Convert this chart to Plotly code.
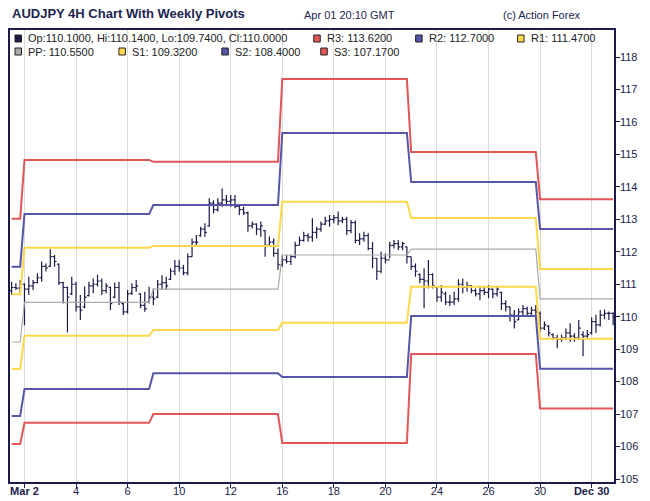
import plotly.graph_objects as go

# ---------------- data ----------------
highs = [111.08,111.03,111.13,111.03,111.23,111.13,111.34,111.70,111.64,112.08,
         111.90,111.64,111.08,110.93,111.23,111.08,110.67,110.93,111.08,111.18,
         111.29,111.18,111.03,110.93,111.05,111.08,110.46,110.82,111.03,111.13,
         110.72,110.77,110.92,110.87,111.13,111.28,111.23,111.49,111.75,111.75,
         111.59,111.95,112.41,112.52,112.77,112.88,113.65,113.59,113.65,113.95,
         113.75,113.75,113.75,113.44,113.39,113.24,112.93,112.88,112.93,112.67,
         112.47,112.41,112.10,111.90,111.90,111.90,112.31,112.47,112.62,112.57,
         113.03,112.77,112.93,113.08,113.13,113.13,113.24,113.08,113.08,112.98,
         112.96,112.57,112.62,112.57,112.30,111.80,112.00,111.95,112.31,112.36,
         112.36,112.31,112.16,111.85,111.64,111.34,111.49,111.75,111.34,110.93,
         110.98,110.77,110.67,110.77,111.15,111.18,111.08,110.98,110.87,110.93,
         110.93,110.98,110.87,110.93,110.77,110.51,110.31,110.21,110.26,110.36,
         110.31,110.31,110.36,110.16,109.85,109.74,109.49,109.44,109.44,109.64,
         109.80,109.49,109.90,109.55,109.59,109.98,110.06,110.21,110.22,110.16,
         110.14]
lows = [110.67,110.82,110.72,109.74,110.67,110.82,111.03,111.08,111.39,111.54,
        111.54,110.98,110.41,109.51,110.67,110.16,109.90,110.26,110.62,110.72,
        110.93,110.67,110.72,110.21,110.57,110.36,110.05,110.10,110.67,110.77,
        110.26,110.15,110.41,110.36,110.57,110.82,110.82,111.13,111.28,111.39,
        111.28,111.28,111.85,112.21,112.46,112.46,112.77,113.18,113.24,113.39,
        113.44,113.39,113.34,113.13,113.13,112.62,112.72,112.52,112.46,111.85,
        112.16,111.85,111.44,111.54,111.64,111.59,111.80,112.21,112.31,112.31,
        112.31,112.41,112.62,112.82,112.77,112.88,112.82,112.88,112.52,112.57,
        112.26,112.21,112.31,112.05,111.49,111.13,111.34,111.64,111.80,112.10,
        112.05,112.05,111.64,111.44,111.23,111.03,110.26,110.87,110.87,110.46,
        110.46,110.36,110.33,110.36,110.46,110.72,110.77,110.72,110.62,110.51,
        110.67,110.57,110.57,110.62,110.21,110.16,109.85,109.64,109.90,110.00,
        110.05,110.00,110.00,109.54,109.59,109.39,109.28,109.03,109.23,109.28,
        109.23,109.23,109.28,108.78,109.33,109.45,109.50,109.70,109.92,109.90,
        109.74]
opens = [110.80,110.90,110.88,111.00,110.85,110.95,111.05,111.20,111.55,111.55,
         111.85,111.62,111.05,110.90,110.70,111.00,110.30,110.30,110.65,110.95,
         111.00,111.10,110.80,110.90,110.60,110.90,110.40,110.15,110.72,110.90,
         110.70,110.35,110.45,110.60,110.60,111.00,111.05,111.15,111.40,111.55,
         111.50,111.35,111.85,112.30,112.50,112.70,112.80,113.50,113.30,113.50,
         113.60,113.55,113.60,113.40,113.30,113.20,112.80,112.85,112.70,112.65,
         112.20,112.30,111.95,111.60,111.75,111.70,111.85,112.20,112.35,112.50,
         112.45,112.60,112.70,112.85,112.95,113.00,113.05,112.95,113.00,112.65,
         112.90,112.35,112.40,112.50,112.10,111.80,111.40,111.80,111.75,112.20,
         112.25,112.15,112.15,111.85,111.55,111.30,111.15,111.10,111.30,110.90,
         110.60,110.70,110.45,110.45,110.55,111.00,110.90,110.95,110.80,110.70,
         110.80,110.75,110.85,110.70,110.75,110.40,110.30,110.05,109.90,110.15,
         110.25,110.10,110.20,110.10,109.65,109.70,109.45,109.35,109.30,109.35,
         109.50,109.40,109.35,109.45,109.40,109.50,109.85,109.75,110.05,110.10,
         110.10]
closes = [110.90,110.88,111.00,110.85,110.95,111.05,111.20,111.55,111.50,111.85,
          111.70,111.05,110.90,110.60,111.00,110.30,110.20,110.60,110.95,111.00,
          111.10,110.80,110.95,110.40,110.90,110.45,110.15,110.70,110.90,110.95,
          110.35,110.25,110.60,110.55,111.00,111.05,110.95,111.40,111.55,111.50,
          111.35,111.85,112.30,112.30,112.70,112.60,113.50,113.30,113.50,113.60,
          113.55,113.60,113.40,113.30,113.20,112.80,112.85,112.70,112.80,112.20,
          112.30,111.95,111.60,111.75,111.70,111.85,112.20,112.35,112.50,112.45,
          112.60,112.70,112.85,112.95,113.00,113.05,112.95,113.00,112.65,112.90,
          112.35,112.40,112.50,112.10,111.80,111.40,111.80,111.75,112.20,112.25,
          112.15,112.25,111.85,111.55,111.40,111.15,111.10,111.30,110.95,110.60,
          110.75,110.45,110.45,110.55,111.00,110.90,110.95,110.80,110.70,110.80,
          110.75,110.85,110.70,110.85,110.40,110.30,110.05,109.85,110.15,110.25,
          110.10,110.20,110.15,109.65,109.75,109.50,109.35,109.30,109.35,109.50,
          109.40,109.35,109.65,109.40,109.45,109.85,109.75,110.05,110.10,110.10,
          110.00]

# weekly pivots (previous week, Mar 2, Mar 9, Mar 16, Mar 23, Mar 30)
week_start = [0, 3, 33, 63, 93, 123]
week_end = [2, 32, 62, 92, 122, 140]
r3 = [113.02, 114.83, 114.77, 117.32, 115.07, 113.62]
r2 = [111.54, 113.16, 113.44, 115.66, 114.15, 112.70]
r1 = [110.69, 112.12, 112.18, 113.54, 113.04, 111.47]
pp = [109.22, 110.44, 110.85, 111.90, 112.08, 110.55]
s1 = [108.39, 109.41, 109.59, 109.81, 110.92, 109.32]
s2 = [106.94, 107.77, 108.26, 108.14, 110.02, 108.40]
s3 = [106.08, 106.73, 107.00, 106.11, 108.85, 107.17]

tick_vals = [3, 15, 27, 39, 51, 63, 75, 87, 99, 111, 123, 135]
tick_text = ["<b>Mar 2</b>", "4", "6", "10", "12", "16", "18", "20", "24", "26", "30", "<b>Dec 30</b>"]

# ---------------- styling ----------------
NAVY = "#1b1b4b"
RED = "#e25656"
BLUE = "#5656a8"
YELLOW = "#fcd84a"
GRAY = "#aaaaaa"
FONT = "Liberation Sans, Arial, sans-serif"

OFF = 8                      # page body margin of the html page
PAGE_W, PAGE_H = 650, 501
W, H = PAGE_W - OFF, PAGE_H - OFF
L, R, T, B = 10, 614.5, 30, 482  # plot area in page pixels


def px(x):
    return (x - L) / (R - L)


def py(y):
    return (B - y) / (B - T)


fig = go.Figure()

x_idx = list(range(len(closes)))
fig.add_trace(go.Ohlc(
    x=x_idx, open=opens, high=highs, low=lows, close=closes,
    increasing=dict(line=dict(color=NAVY, width=1.2)),
    decreasing=dict(line=dict(color=NAVY, width=1.2)),
    tickwidth=0.45, showlegend=False, hoverinfo="skip",
))


def pivot_trace(vals, color, width):
    xs, ys = [], []
    for s, e, v in zip(week_start, week_end, vals):
        xs += [s, e]
        ys += [v, v]
    return go.Scatter(x=xs, y=ys, mode="lines", line=dict(color=color, width=width),
                      showlegend=False, hoverinfo="skip")


fig.add_trace(pivot_trace(pp, GRAY, 1.2))
for vals, col in [(r1, YELLOW), (s1, YELLOW), (r2, BLUE), (s2, BLUE), (r3, RED), (s3, RED)]:
    fig.add_trace(pivot_trace(vals, col, 2))

# legend background (white, over gridlines)
shapes = [dict(type="rect", xref="paper", yref="paper", x0=0, x1=1, y0=py(57), y1=1,
               fillcolor="white", line=dict(width=0), layer="between")]
annotations = []

legend_items = [
    (15, 38.5, NAVY, "Op:%.4f, Hi:%.4f, Lo:%.4f, Cl:%.4f" % (opens[-1], highs[-1], lows[-1], closes[-1])),
    (314, 38.5, RED, "R3: %.4f" % r3[-1]),
    (416, 38.5, BLUE, "R2: %.4f" % r2[-1]),
    (518, 38.5, YELLOW, "R1: %.4f" % r1[-1]),
    (15, 51.5, GRAY, "PP: %.4f" % pp[-1]),
    (119, 51.5, YELLOW, "S1: %.4f" % s1[-1]),
    (222, 51.5, BLUE, "S2: %.4f" % s2[-1]),
    (321, 51.5, RED, "S3: %.4f" % s3[-1]),
]
for x0, yc, col, txt in legend_items:
    shapes.append(dict(type="rect", xref="paper", yref="paper",
                       x0=px(x0), x1=px(x0 + 6.5), y0=py(yc + 3.5), y1=py(yc - 3.5),
                       fillcolor=col, line=dict(color="#222222", width=1), layer="above"))
    annotations.append(dict(xref="paper", yref="paper", x=px(x0 + 11), y=py(yc),
                            xanchor="left", yanchor="middle", showarrow=False,
                            text=txt, font=dict(family=FONT, size=11, color="#222222")))

# header texts
annotations.append(dict(xref="paper", yref="paper", x=px(10), y=py(14), xanchor="left", yanchor="middle",
                        showarrow=False, text="<b>AUDJPY 4H Chart With Weekly Pivots</b>",
                        font=dict(family=FONT, size=13, color="#1c2550")))
annotations.append(dict(xref="paper", yref="paper", x=px(302), y=py(15), xanchor="left", yanchor="middle",
                        showarrow=False, text="Apr 01 20:10 GMT",
                        font=dict(family=FONT, size=11, color="#1c2550")))
annotations.append(dict(xref="paper", yref="paper", x=px(501), y=py(15), xanchor="left", yanchor="middle",
                        showarrow=False, text="(c) Action Forex",
                        font=dict(family=FONT, size=11, color="#1c2550")))

units = (479 - 57) / 13.0
y_lo = 105 - (B - 479) / units
y_hi = 118 + (57 - T) / units

fig.update_layout(
    width=W, height=H,
    margin=dict(l=L - OFF, r=PAGE_W - R, t=T - OFF, b=PAGE_H - B, pad=0, autoexpand=False),
    paper_bgcolor="white", plot_bgcolor="white",
    shapes=shapes, annotations=annotations,
    showlegend=False,
    font=dict(family=FONT, size=11, color=NAVY),
    xaxis=dict(
        range=[-0.37, 140.2], rangeslider=dict(visible=False), automargin=False,
        tickmode="array", tickvals=tick_vals, ticktext=tick_text,
        showgrid=True, gridcolor="#dcdcdc", gridwidth=1, zeroline=False,
        showline=True, mirror=True, linecolor=NAVY, linewidth=1.5,
        ticks="outside", ticklen=4, tickcolor=NAVY, ticklabelstandoff=-6,
        tickfont=dict(family=FONT, size=11, color=NAVY),
    ),
    yaxis=dict(
        range=[y_lo, y_hi], side="right", tickmode="linear", tick0=105, dtick=1,
        automargin=False,
        showgrid=False, zeroline=False,
        showline=True, mirror=True, linecolor=NAVY, linewidth=1.5,
        ticks="outside", ticklen=4, tickcolor=NAVY, ticklabelstandoff=-2,
        tickfont=dict(family=FONT, size=11, color=NAVY),
    ),
)

fig.write_html("out.html")
